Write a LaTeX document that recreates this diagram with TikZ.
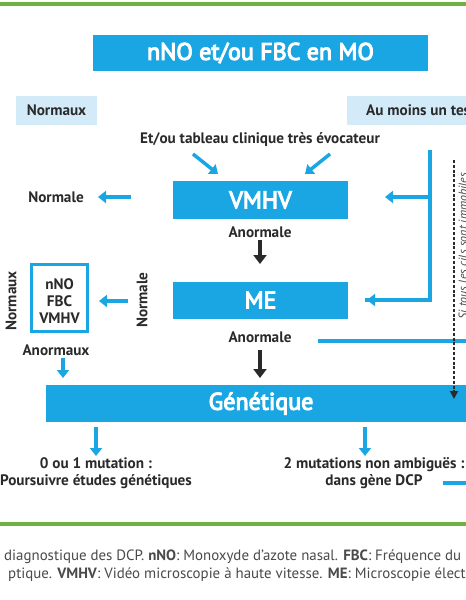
\documentclass[tikz,border=0pt]{standalone}
\usepackage{fontspec}
\setmainfont{PT Sans}
\newfontfamily\mediumfont[FakeBold=4.5]{PT Sans}
\usetikzlibrary{arrows.meta}
\definecolor{cy}{HTML}{1AA6E2}
\definecolor{lcy}{HTML}{D3EBF9}
\definecolor{gr}{HTML}{6CB33F}
\definecolor{tx}{HTML}{2A2A2A}
\definecolor{cap}{HTML}{4A4A4A}
\begin{document}
\begin{tikzpicture}[x=1pt,y=-1pt,
  bigbox/.style={fill=cy,text=white,inner sep=0pt,font=\mediumfont\fontsize{24}{28}\selectfont},
  lbox/.style={fill=lcy,text=tx,inner sep=0pt,minimum height=29pt,font=\bfseries\fontsize{15.2}{17}\selectfont},
  lab/.style={text=tx,inner sep=0pt,font=\bfseries\fontsize{15.2}{16.8}\selectfont},
  barrow/.style={draw=cy,line width=3.5pt,-{Triangle[length=8pt,width=12pt]}},
  bline/.style={draw=cy,line width=3.5pt},
  karrow/.style={draw=tx,line width=4pt,-{Triangle[length=9pt,width=13pt]}},
  gline/.style={draw=gr,line width=3.5pt},
  capt/.style={text=cap,inner sep=0pt,anchor=west,font=\fontsize{14.9}{18}\selectfont}
]
\useasboundingbox (0,0) rectangle (466,600);
\clip (0,0) rectangle (466,600);
\fill[white] (0,0) rectangle (466,600);

% green rules
\coordinate (g1a) at (0,4); \coordinate (g1b) at (466,4);
\draw[gline] (g1a) -- (g1b);
\coordinate (g2a) at (0,524); \coordinate (g2b) at (466,524);
\draw[gline] (g2a) -- (g2b);

% main boxes
\node[bigbox,minimum width=335pt,minimum height=36pt] (title) at (260.5,53) {nNO et/ou FBC en MO};
\node[lbox,minimum width=81pt] (normaux) at (56.5,110.5) {Normaux};
\node[lbox,anchor=west,inner xsep=19pt] (aumoins) at (347,110.5) {Au moins un test anormal};

\node[lab] (evoc) at (260,140) {Et/ou tableau clinique très évocateur};

\node[bigbox,minimum width=175pt,minimum height=38pt] (vmhv) at (260.5,200) {VMHV};
\node[lab] (an1) at (260,232) {Anormale};
\node[bigbox,minimum width=175pt,minimum height=37pt] (me) at (260.5,300) {ME};
\node[lab] (an2) at (260,337) {Anormale};
\node[bigbox,minimum width=430pt,minimum height=37pt] (gen) at (261,403.5) {Génétique};

% left side
\node[lab] (normale1) at (56,197) {Normale};
\node[draw=cy,line width=3pt,minimum width=56pt,minimum height=67pt,inner sep=0pt] (lbox) at (59.5,298) {};
\node[lab,align=center] (ltext) at (59.5,301) {nNO\\FBC\\VMHV};
\node[lab,rotate=90] (normauxr) at (11,301) {Normaux};
\node[lab,rotate=90] (normaler) at (142,300) {Normale};
\node[lab] (anormaux) at (56,350) {Anormaux};

% bottom
\node[lab,align=center] (mut0) at (96,473.5) {0 ou 1 mutation :\\Poursuivre études génétiques};
\node[lab,align=center] (mut2) at (374,473.5) {2 mutations non ambiguës :\\dans gène DCP};

% right rotated text
\node[rotate=90,anchor=base,inner sep=0pt,text=cap,font=\itshape\fontsize{12}{14}\selectfont] (tous) at (467.2,246) {Si tous les cils sont immobiles};

% caption
\node[capt] (cap1) at (4,557) {diagnostique des DCP. \textbf{nNO}: Monoxyde d'azote nasal. \textbf{FBC}: Fréquence du battement};
\node[capt] (cap2) at (8,575) {ptique. \textbf{VMHV}: Vidéo microscopie à haute vitesse. \textbf{ME}: Microscopie électronique};

% coordinates for connectors
\coordinate (d1s) at (193,154); \coordinate (d1e) at (218,174);
\coordinate (d2s) at (330,154); \coordinate (d2e) at (305,174);
\coordinate (n1s) at (131,197); \coordinate (n1e) at (98,197);
\coordinate (k1s) at (260,240); \coordinate (k1e) at (260,264);
\coordinate (k2s) at (260,350); \coordinate (k2e) at (260,378);
\coordinate (rt) at (430,152); \coordinate (rb) at (430,300);
\coordinate (rv) at (430,197); \coordinate (rve) at (385,197);
\coordinate (rme) at (367,300);
\coordinate (la1) at (128,301); \coordinate (la2) at (99,301);
\coordinate (ad1) at (63,358); \coordinate (ad2) at (63,378);
\coordinate (ga1) at (96,427); \coordinate (ga2) at (96,456);
\coordinate (gb1) at (365,427); \coordinate (gb2) at (365,456);
\coordinate (ml1) at (318,341); \coordinate (ml2) at (470,341);
\coordinate (dl1) at (443,483); \coordinate (dl2) at (470,483);
\coordinate (dt1) at (454,160); \coordinate (dt2) at (454,399);

% connectors
\draw[barrow] (d1s) -- (d1e);
\draw[barrow] (d2s) -- (d2e);
\draw[barrow] (n1s) -- (n1e);
\draw[karrow] (k1s) -- (k1e);
\draw[karrow] (k2s) -- (k2e);
\draw[bline,line cap=rect] (rt) -- (rb) -- (rme);
\draw[barrow] (rb) -- (rme);
\draw[barrow] (rv) -- (rve);
\draw[barrow] (la1) -- (la2);
\draw[barrow] (ad1) -- (ad2);
\draw[barrow] (ga1) -- (ga2);
\draw[barrow] (gb1) -- (gb2);
\draw[bline] (ml1) -- (ml2);
\draw[bline] (dl1) -- (dl2);
\draw[draw=tx,line width=1.8pt,dash pattern=on 3pt off 1.8pt,-{Triangle[length=8pt,width=8pt]}] (dt1) -- (dt2);
\end{tikzpicture}
\end{document}
